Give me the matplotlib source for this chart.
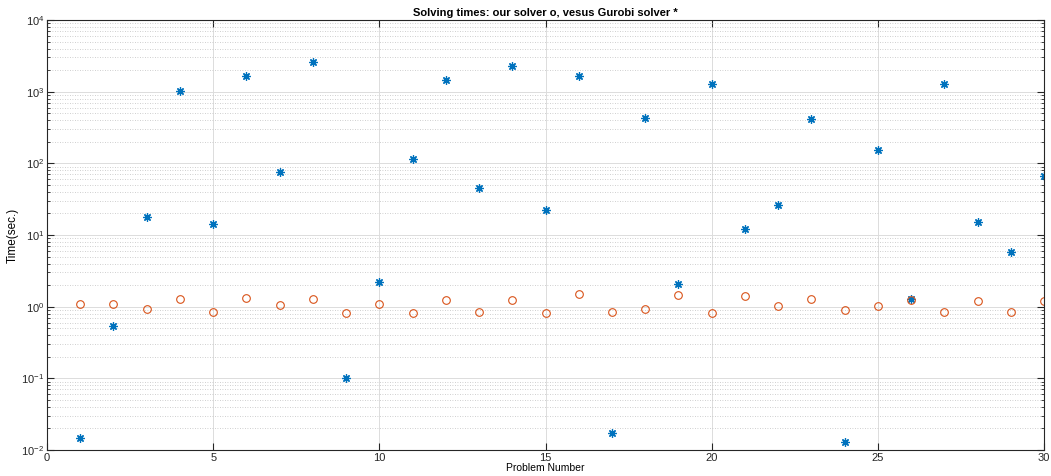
import matplotlib.pyplot as plt
import numpy as np
from matplotlib.ticker import LogLocator, MultipleLocator

problems = list(range(1, 31))

gurobi_times = [0.0145, 0.54, 17.7, 1020, 14.4, 1630, 76, 2600, 0.10, 2.2,
                116, 1435, 46, 2275, 22, 1630, 0.017, 435, 2.1, 1300,
                12.3, 26, 410, 0.0129, 152, 1.29, 1260, 15.4, 5.8, 66]

our_times = [1.09, 1.09, 0.93, 1.29, 0.85, 1.33, 1.07, 1.29, 0.82, 1.10,
             0.82, 1.25, 0.85, 1.25, 0.82, 1.49, 0.85, 0.93, 1.44, 0.82,
             1.39, 1.02, 1.30, 0.91, 1.02, 1.22, 0.85, 1.19, 0.85, 1.21]

plt.rcParams['font.family'] = ['Liberation Sans', 'DejaVu Sans']
plt.rcParams['mathtext.default'] = 'regular'

fig = plt.figure(figsize=(10.51, 4.76), dpi=100)
ax = fig.add_axes([47 / 1051, 1 - 450 / 476, 997 / 1051, 430 / 476])

ax.plot(problems, gurobi_times, linestyle='none', marker=(8, 2, 0), markersize=6,
        markeredgewidth=0.9, color='#0072BD')
ax.plot(problems, our_times, linestyle='none', marker='o', markersize=5.5,
        markerfacecolor='none', markeredgewidth=0.8, markeredgecolor='#D95319')

ax.set_yscale('log')
ax.set_xlim(0, 30)
ax.set_ylim(1e-2, 1e4)
ax.xaxis.set_major_locator(MultipleLocator(5))
ax.yaxis.set_major_locator(LogLocator(base=10, numticks=10))
ax.yaxis.set_minor_locator(LogLocator(base=10, subs=np.arange(2, 10), numticks=20))

ax.grid(True, which='major', color='#dcdcdc', linewidth=0.7)
ax.grid(True, which='minor', axis='y', color='#c0c0c0', linestyle=(0, (1, 2)), linewidth=0.6)
ax.set_axisbelow(True)

ax.tick_params(which='both', direction='in', top=True, right=True, labelsize=8,
               color='#262626', labelcolor='#262626')
ax.tick_params(which='major', length=5, width=0.8, pad=2)
ax.tick_params(which='minor', length=2.5, width=0.6)
for s in ax.spines.values():
    s.set_color('#262626')
    s.set_linewidth(0.8)

ax.set_title('Solving times: our solver o, vesus Gurobi solver *', fontsize=8,
             fontweight='bold', pad=3)
ax.set_xlabel('Problem Number', fontsize=7.5, labelpad=0)
ax.set_ylabel('Time(sec.)', fontsize=8.5, labelpad=2)

fig.savefig('out.png', dpi=100)
